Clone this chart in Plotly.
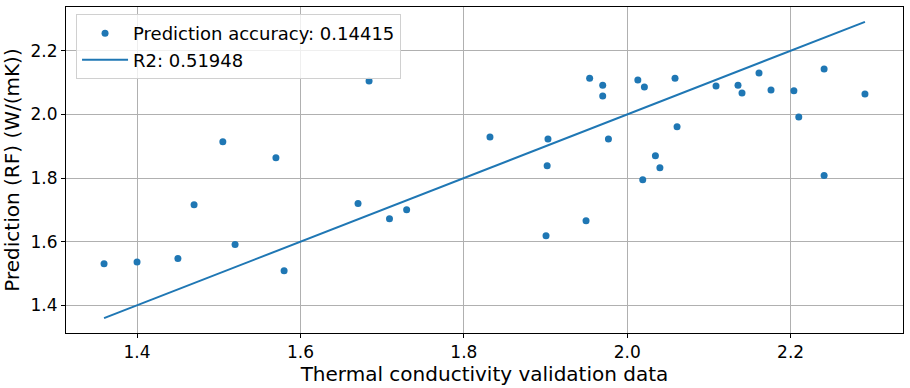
import plotly.graph_objects as go

# Validation data (x) and RF predictions (y)
validation = [1.684, 1.505, 1.570, 1.832, 1.903, 1.902, 1.954, 1.970, 1.970, 1.977,
              2.013, 2.021, 2.0345, 2.040, 2.019, 2.0585, 2.061, 2.1087, 2.1356, 2.1405,
              2.1613, 2.176, 2.204, 2.210, 2.241, 2.241, 2.291, 1.3596, 1.400, 1.450,
              1.4698, 1.520, 1.580, 1.6705, 1.709, 1.730, 1.9006, 1.9496]
prediction = [2.105, 1.914, 1.864, 1.929, 1.923, 1.839, 2.114, 2.092, 2.058, 1.923,
              2.108, 2.086, 1.870, 1.832, 1.795, 2.114, 1.961, 2.089, 2.092, 2.067,
              2.130, 2.077, 2.074, 1.992, 2.143, 1.808, 2.064, 1.531, 1.536, 1.547,
              1.716, 1.591, 1.509, 1.720, 1.672, 1.700, 1.619, 1.666]

scatter_label = "Prediction accuracy: 0.14415"
line_label = "R2: 0.51948"
x_title = "Thermal conductivity validation data"
y_title = "Prediction (RF) (W/(mK))"
x_ticks = [1.4, 1.6, 1.8, 2.0, 2.2]
y_ticks = [1.4, 1.6, 1.8, 2.0, 2.2]

line_x = sorted(validation)
line_y = line_x

blue = "#1f77b4"
font = "DejaVu Sans"

fig = go.Figure()
fig.add_trace(go.Scatter(x=validation, y=prediction, mode="markers", name=scatter_label,
                         marker=dict(color=blue, size=7, line=dict(width=0))))
fig.add_trace(go.Scatter(x=line_x, y=line_y, mode="lines", name=line_label,
                         line=dict(color=blue, width=2)))

xmin, xmax = min(validation), max(validation)
xm = (xmax - xmin) * 0.05
ymin = min(min(prediction), min(line_y))
ymax = max(max(prediction), max(line_y))
ym = (ymax - ymin) * 0.05

axis_common = dict(showgrid=True, gridcolor="#b0b0b0", gridwidth=0.8,
                   showline=True, linecolor="black", linewidth=1, mirror=True,
                   ticks="outside", ticklen=4, tickcolor="black", tickwidth=1,
                   tickfont=dict(size=17, color="black", family=font),
                   zeroline=False, tickformat=".1f", automargin=False)

fig.update_layout(
    width=910, height=388,
    margin=dict(l=66, r=7, t=7, b=55),
    paper_bgcolor="white", plot_bgcolor="white",
    font=dict(family=font, color="black"),
    showlegend=True,
    legend=dict(x=0.012, y=0.978, xanchor="left", yanchor="top",
                bgcolor="rgba(255,255,255,0.8)", bordercolor="#d0d0d0", borderwidth=1,
                font=dict(size=18, family=font, color="black"),
                tracegroupgap=0, itemwidth=46),
    xaxis=dict(range=[xmin - xm, xmax + xm], tickvals=x_ticks,
               title=dict(text=x_title, font=dict(size=20, family=font, color="black"), standoff=3),
               **axis_common),
    yaxis=dict(range=[ymin - ym, ymax + ym], tickvals=y_ticks,
               title=dict(text=y_title, font=dict(size=20, family=font, color="black"), standoff=8),
               **axis_common),
)

fig.write_html("out.html", config={"displayModeBar": False},
               post_script="document.body.style.margin='0';document.body.style.overflow='hidden';")
